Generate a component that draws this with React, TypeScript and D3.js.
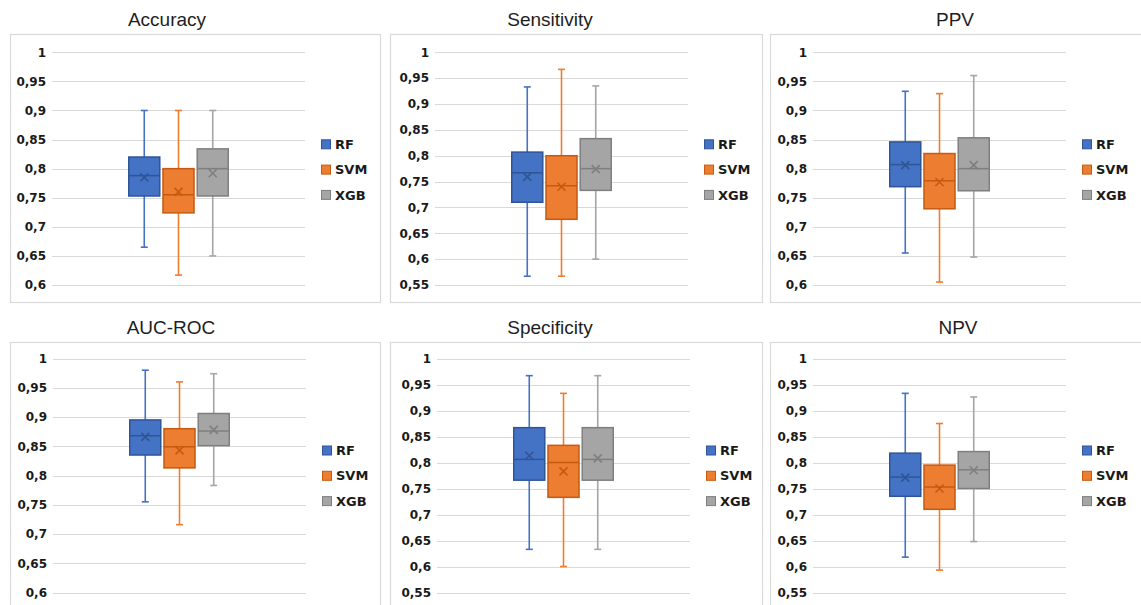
import React from "react";
import * as d3 from "d3";

// Metrics shown, one panel each (row-major order)
const metrics = ["Accuracy", "Sensitivity", "PPV", "AUC-ROC", "Specificity", "NPV"];
const models = ["RF", "SVM", "XGB"];

// Lower limit of each panel's value axis (upper limit is 1)
const axisMin = [0.6, 0.55, 0.6, 0.6, 0.55, 0.55];

// Five-number summaries and means per metric, in model order RF, SVM, XGB
const whiskerLow = [
  [0.665, 0.617, 0.65],
  [0.567, 0.567, 0.6],
  [0.655, 0.605, 0.648],
  [0.755, 0.716, 0.783],
  [0.633, 0.6, 0.633],
  [0.618, 0.593, 0.648],
];
const quartile1 = [
  [0.753, 0.724, 0.753],
  [0.71, 0.677, 0.733],
  [0.769, 0.731, 0.762],
  [0.835, 0.813, 0.851],
  [0.766, 0.733, 0.766],
  [0.735, 0.71, 0.75],
];
const medians = [
  [0.788, 0.755, 0.8],
  [0.767, 0.742, 0.775],
  [0.807, 0.779, 0.8],
  [0.868, 0.849, 0.876],
  [0.806, 0.8, 0.806],
  [0.772, 0.753, 0.786],
];
const quartile3 = [
  [0.82, 0.8, 0.834],
  [0.807, 0.8, 0.833],
  [0.846, 0.826, 0.853],
  [0.895, 0.88, 0.906],
  [0.867, 0.833, 0.867],
  [0.818, 0.795, 0.821],
];
const whiskerHigh = [
  [0.9, 0.9, 0.9],
  [0.933, 0.967, 0.935],
  [0.933, 0.929, 0.96],
  [0.98, 0.96, 0.974],
  [0.967, 0.933, 0.967],
  [0.933, 0.875, 0.926],
];
const means = [
  [0.785, 0.76, 0.792],
  [0.759, 0.74, 0.774],
  [0.806, 0.777, 0.806],
  [0.866, 0.843, 0.878],
  [0.813, 0.783, 0.808],
  [0.771, 0.75, 0.785],
];

// Panel geometry
const frameX = [10, 390, 770];
const frameW = [370, 372, 390];
const plotLeftTop = [52, 435, 813];
const plotLeftBottom = [53, 437, 813];
const titleX = [167, 550, 955, 171, 550, 958];
const rows = [
  { frameY: 34, frameH: 268, titleY: 26, plotTop: 52.3, plotBottom: 285 },
  { frameY: 342, frameH: 300, titleY: 334, plotTop: 358.5, plotBottom: 592.5 },
];
const plotWidth = 253;

const fills: Record<string, string> = { RF: "#4472C4", SVM: "#ED7D31", XGB: "#A5A5A5" };
const borders: Record<string, string> = { RF: "#2F5597", SVM: "#C55A11", XGB: "#7F7F7F" };

const fmt = (v: number) => {
  const s = d3.format(".2~f")(v);
  return s.replace(".", ",");
};

function Panel({ idx }: { idx: number }) {
  const row = rows[Math.floor(idx / 3)];
  const col = idx % 3;
  const left = idx < 3 ? plotLeftTop[col] : plotLeftBottom[col];
  const right = left + plotWidth;
  const y = d3.scaleLinear().domain([axisMin[idx], 1]).range([row.plotBottom, row.plotTop]);
  const ticks = d3.range(Math.round((1 - axisMin[idx]) / 0.05) + 1).map((i) => +(axisMin[idx] + i * 0.05).toFixed(2));
  const cx = (left + right) / 2;
  const x = d3.scaleBand().domain(models).range([cx - 50.5, cx + 50.5]).paddingInner(0.05);
  const bw = x.bandwidth();
  const cap = 7;
  const mk = 4;
  const legendX = right + 16;
  const legendY0 = row.plotTop + 92;

  return (
    <g>
      <rect x={frameX[col] + 0.5} y={row.frameY + 0.5} width={frameW[col]} height={row.frameH}
        fill="#fff" stroke="#d9d9d9" strokeWidth={1.2} />
      <text x={titleX[idx]} y={row.titleY} textAnchor="middle"
        fontFamily="'Liberation Sans', Arial, sans-serif" fontSize={19} fill="#1e1e1e">
        {metrics[idx]}
      </text>
      {ticks.map((t) => (
        <g key={t}>
          <line x1={left} x2={right} y1={Math.round(y(t)) + 0.5} y2={Math.round(y(t)) + 0.5}
            stroke="#d9d9d9" strokeWidth={1} />
          <text x={left - 6} y={y(t)} dy="0.36em" textAnchor="end"
            fontFamily="'DejaVu Sans', sans-serif" fontWeight="bold" fontSize={12} fill="#1a1a1a">
            {fmt(t)}
          </text>
        </g>
      ))}
      {models.map((m, j) => {
        const x0 = x(m) as number;
        const xc = x0 + bw / 2;
        const lo = whiskerLow[idx][j];
        const hi = whiskerHigh[idx][j];
        const q1 = quartile1[idx][j];
        const q3 = quartile3[idx][j];
        const md = medians[idx][j];
        const mn = means[idx][j];
        return (
          <g key={m}>
            <line x1={xc} x2={xc} y1={y(hi)} y2={y(q3)} stroke={fills[m]} strokeWidth={1.6} />
            <line x1={xc} x2={xc} y1={y(q1)} y2={y(lo)} stroke={fills[m]} strokeWidth={1.6} />
            <line x1={xc - cap / 2} x2={xc + cap / 2} y1={y(hi)} y2={y(hi)} stroke={fills[m]} strokeWidth={1.6} />
            <line x1={xc - cap / 2} x2={xc + cap / 2} y1={y(lo)} y2={y(lo)} stroke={fills[m]} strokeWidth={1.6} />
            <rect x={x0 + 0.75} y={y(q3)} width={bw - 1.5} height={y(q1) - y(q3)}
              fill={fills[m]} stroke={borders[m]} strokeWidth={1.5} />
            <line x1={x0 + 0.75} x2={x0 + bw - 0.75} y1={y(md)} y2={y(md)} stroke={borders[m]} strokeWidth={1.5} />
            <path d={`M${xc - mk},${y(mn) - mk}L${xc + mk},${y(mn) + mk}M${xc - mk},${y(mn) + mk}L${xc + mk},${y(mn) - mk}`}
              stroke={borders[m]} strokeWidth={1.6} fill="none" />
          </g>
        );
      })}
      {models.map((m, j) => (
        <g key={m} transform={`translate(${legendX},${legendY0 + j * 25.3})`}>
          <rect x={0.5} y={-4.5} width={9} height={9} fill={fills[m]} stroke={borders[m]} strokeWidth={1} />
          <text x={14} y={0} dy="0.36em" fontFamily="'DejaVu Sans', sans-serif" fontWeight="bold"
            fontSize={13} fill="#1a1a1a">
            {m}
          </text>
        </g>
      ))}
    </g>
  );
}

export default function App() {
  return (
    <svg width={1141} height={605} style={{ position: "absolute", left: 0, top: 0, background: "#fff" }}>
      <rect width={1141} height={605} fill="#fff" />
      {metrics.map((_, i) => (
        <Panel key={i} idx={i} />
      ))}
    </svg>
  );
}
